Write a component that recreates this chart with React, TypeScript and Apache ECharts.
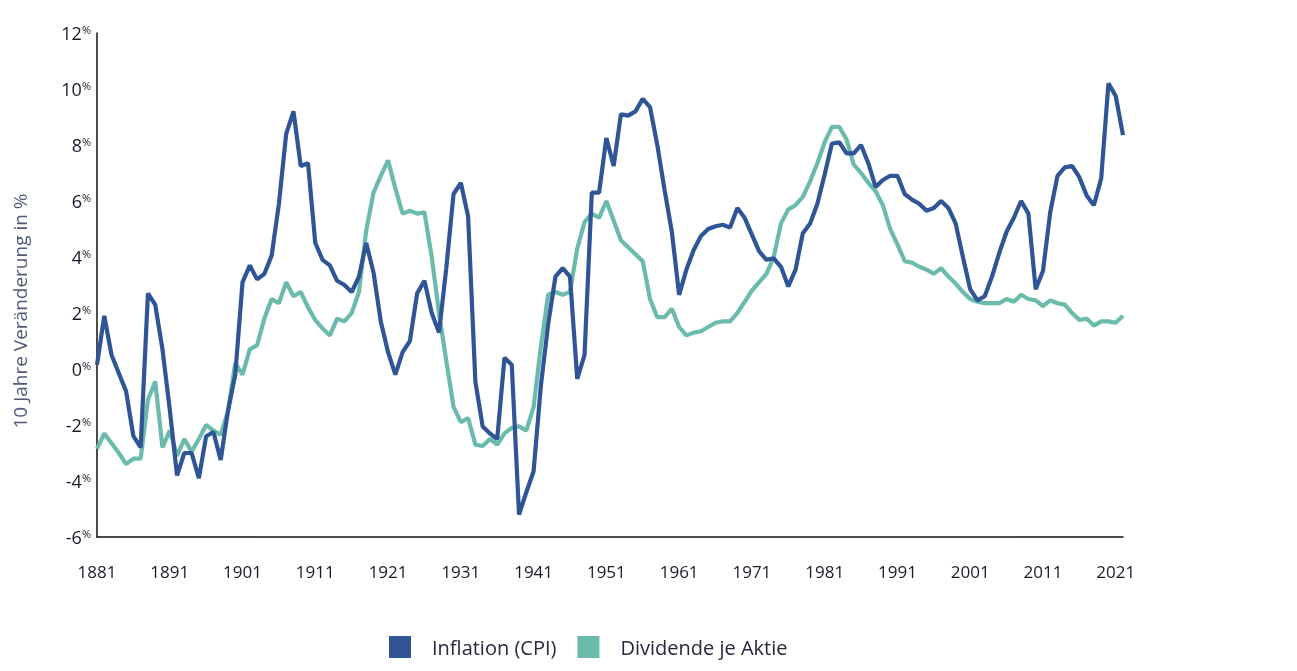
import React, { useEffect, useRef } from "react";
import * as echarts from "echarts";

const years: string[] = [];
for (let y = 1881; y <= 2022; y++) years.push(String(y));

const inflation = [
  0.15, 1.9, 0.5, -0.15, -0.8, -2.4, -2.8, 2.7, 2.3, 0.7,
  -1.45, -3.8, -3.0, -3.0, -3.9, -2.4, -2.25, -3.25, -1.5, -0.2,
  3.1, 3.7, 3.2, 3.4, 4.05, 5.9, 8.4, 9.2, 7.25, 7.35,
  4.5, 3.9, 3.7, 3.15, 3.0, 2.75, 3.3, 4.5, 3.45, 1.7,
  0.6, -0.2, 0.6, 1.0, 2.7, 3.15, 2.0, 1.3, 3.6, 6.25,
  6.65, 5.45, -0.45, -2.05, -2.3, -2.5, 0.4, 0.15, -5.2, -4.4,
  -3.65, -0.6, 1.6, 3.3, 3.6, 3.3, -0.35, 0.5, 6.3, 6.3,
  8.25, 7.25, 9.1, 9.05, 9.2, 9.65, 9.35, 8.0, 6.4, 4.9,
  2.65, 3.55, 4.25, 4.75, 5.0, 5.1, 5.15, 5.05, 5.75, 5.4,
  4.8, 4.2, 3.9, 3.95, 3.65, 2.95, 3.55, 4.85, 5.2, 5.9,
  6.95, 8.05, 8.1, 7.7, 7.7, 8.0, 7.35, 6.5, 6.75, 6.9,
  6.9, 6.25, 6.05, 5.9, 5.65, 5.75, 6.0, 5.75, 5.2, 4.0,
  2.85, 2.45, 2.6, 3.3, 4.15, 4.9, 5.4, 6.0, 5.55, 2.85,
  3.5, 5.6, 6.9, 7.2, 7.25, 6.85, 6.2, 5.85, 6.8, 10.2,
  9.75, 8.35,
];

const dividend = [
  -2.85, -2.3, -2.65, -3.0, -3.4, -3.2, -3.2, -1.1, -0.45, -2.8,
  -2.2, -3.1, -2.5, -2.95, -2.5, -2.0, -2.2, -2.35, -1.5, 0.2,
  -0.2, 0.7, 0.85, 1.8, 2.5, 2.35, 3.1, 2.6, 2.75, 2.2,
  1.75, 1.45, 1.2, 1.8, 1.7, 2.0, 2.75, 4.95, 6.3, 6.9,
  7.45, 6.45, 5.55, 5.65, 5.55, 5.6, 4.0, 2.0, 0.3, -1.35,
  -1.9, -1.75, -2.7, -2.75, -2.5, -2.7, -2.3, -2.1, -2.05, -2.2,
  -1.35, 0.8, 2.65, 2.75, 2.65, 2.75, 4.3, 5.25, 5.55, 5.4,
  6.0, 5.3, 4.6, 4.35, 4.1, 3.85, 2.5, 1.85, 1.85, 2.15,
  1.5, 1.2, 1.3, 1.35, 1.5, 1.65, 1.7, 1.7, 2.0, 2.4,
  2.8, 3.1, 3.4, 4.0, 5.2, 5.7, 5.85, 6.15, 6.7, 7.35,
  8.1, 8.65, 8.65, 8.2, 7.3, 7.0, 6.65, 6.35, 5.85, 5.0,
  4.45, 3.85, 3.8, 3.65, 3.55, 3.4, 3.6, 3.3, 3.05, 2.75,
  2.5, 2.4, 2.35, 2.35, 2.35, 2.5, 2.4, 2.65, 2.5, 2.45,
  2.25, 2.45, 2.35, 2.3, 2.0, 1.75, 1.8, 1.55, 1.7, 1.7,
  1.65, 1.9,
];

const seriesNames = ["Inflation (CPI)", "Dividende je Aktie"];
const yAxisTitle = "10 Jahre Veränderung in %";

const FONT = "'Open Sans', 'DejaVu Sans', sans-serif";

export default function App() {
  const ref = useRef<HTMLDivElement>(null);
  useEffect(() => {
    if (!ref.current) return;
    const chart = echarts.init(ref.current, undefined, { renderer: "svg" });
    chart.setOption({
      animation: false,
      textStyle: { fontFamily: FONT },
      grid: { left: 97, right: 174, top: 33, bottom: 134, containLabel: false },
      legend: {
        data: seriesNames,
        left: 389,
        top: 636,
        padding: 0,
        icon: "rect",
        itemWidth: 22,
        itemHeight: 22,
        itemGap: 21,
        textStyle: {
          fontSize: 20,
          lineHeight: 22,
          color: "#2d2440",
          fontFamily: FONT,
          padding: [0, 0, 0, 16],
        },
      },
      graphic: [
        {
          type: "text",
          x: 20,
          y: 311,
          rotation: Math.PI / 2,
          style: {
            text: yAxisTitle,
            fontSize: 19,
            fontFamily: FONT,
            fill: "#505a78",
            align: "center",
            verticalAlign: "middle",
          },
        },
      ],
      xAxis: {
        type: "category",
        data: years,
        boundaryGap: false,
        axisLine: { onZero: false, lineStyle: { color: "#111", width: 1.5 } },
        axisTick: { show: false },
        axisLabel: {
          interval: 9,
          margin: 26,
          fontSize: 17,
          color: "#1a1a2a",
          fontFamily: FONT,
        },
        splitLine: { show: false },
      },
      yAxis: {
        type: "value",
        min: -6,
        max: 12,
        interval: 2,
        axisLine: { show: true, lineStyle: { color: "#111", width: 1.5 } },
        axisTick: { show: false },
        splitLine: { show: false },
        axisLabel: {
          margin: 6,
          formatter: (v: number) => `{a|${v}}{b|%}`,
          rich: {
            a: { fontSize: 18, color: "#1a1a2a", fontFamily: FONT },
            b: { fontSize: 11, color: "#1a1a2a", fontFamily: FONT, verticalAlign: "top" },
          },
        },
      },
      series: [
        {
          name: seriesNames[1],
          type: "line",
          data: dividend,
          symbol: "none",
          lineStyle: { width: 4.2, color: "#6ABBAC" },
          itemStyle: { color: "#6ABBAC" },
        },
        {
          name: seriesNames[0],
          type: "line",
          data: inflation,
          symbol: "none",
          lineStyle: { width: 4.2, color: "#2F5597" },
          itemStyle: { color: "#2F5597" },
        },
      ],
    });
    return () => chart.dispose();
  }, []);
  return (
    <div
      ref={ref}
      style={{ position: "fixed", left: 0, top: 0, width: 1297, height: 671 }}
    />
  );
}
